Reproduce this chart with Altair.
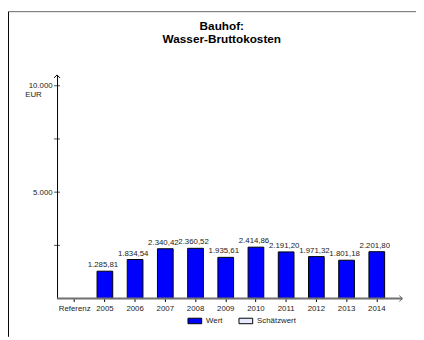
import altair as alt
import pandas as pd

categories = ["Referenz", "2005", "2006", "2007", "2008", "2009", "2010", "2011", "2012", "2013", "2014"]
years = ["2005", "2006", "2007", "2008", "2009", "2010", "2011", "2012", "2013", "2014"]
values = [1285.81, 1834.54, 2340.42, 2360.52, 1935.61, 2414.86, 2191.20, 1971.32, 1801.18, 2201.80]
series = ["Wert", "Schätzwert"]
series_colors = ["#0000ff", "#e6ebff"]
y_ticks = [2500, 5000, 7500, 10000]
y_label_values = [5000, 10000]
unit = ["EUR"]
title_lines = ["Bauhof:", "Wasser-Bruttokosten"]

FONT = "Liberation Sans"


def de(v):
    return f"{v:,.2f}".replace(",", "X").replace(".", ",").replace("X", ".")


bars_df = pd.DataFrame({
    "Jahr": years,
    "Wert": values,
    "Serie": ["Wert"] * len(years),
    "Label": [de(v) for v in values],
})

x_enc = alt.X(
    "Jahr:N",
    scale=alt.Scale(domain=categories, paddingInner=0.48, paddingOuter=0.324),
    axis=alt.Axis(title=None, labelAngle=0, domain=False, ticks=True, tickSize=3,
                  tickColor="black", labelFont=FONT, labelFontSize=8, labelColor="#222222",
                  labelPadding=3, grid=False),
)
y_scale = alt.Scale(domain=[0, 10507], nice=False)
y_axis = alt.Axis(title=None, values=y_label_values, ticks=False, domain=True, domainColor="black",
                  domainWidth=1, labelPadding=5, grid=False, labelFont=FONT, labelFontSize=8,
                  labelColor="#222222",
                  labelExpr="replace(format(datum.value, ',.0f'), ',', '.')")


def y_enc():
    return alt.Y("Wert:Q", scale=y_scale, axis=y_axis)


bars = alt.Chart(bars_df).mark_bar(stroke="black", strokeWidth=1).encode(
    x=x_enc,
    y=y_enc(),
    fill=alt.Fill("Serie:N", scale=alt.Scale(domain=series, range=series_colors),
                  legend=alt.Legend(title=None, orient="none", legendX=133, legendY=243,
                                    direction="horizontal", symbolType="M-1,-0.4H1V0.4H-1Z",
                                    symbolSize=196, symbolStrokeColor="black", symbolStrokeWidth=1,
                                    labelFont=FONT, labelFontSize=8, labelColor="#222222",
                                    labelOffset=4, columnPadding=14)),
)

labels = alt.Chart(bars_df).mark_text(baseline="bottom", dy=-2, dx=-2, fontSize=8, font=FONT,
                                      color="#222222").encode(
    x=x_enc, y=y_enc(), text="Label:N")

ticks = alt.Chart(pd.DataFrame({"Wert": y_ticks})).mark_tick(
    orient="horizontal", size=6, thickness=1, color="black").encode(
    y=y_enc(), x=alt.value(0))

eur = alt.Chart(pd.DataFrame({"Wert": [10000], "t": unit})).mark_text(
    align="center", baseline="top", dy=5, fontSize=8, font=FONT, color="#222222").encode(
    y=y_enc(), x=alt.value(-24), text="t:N")

one = pd.DataFrame({"a": [0]})
x_line = alt.Chart(one).mark_rule(color="#707070", strokeWidth=2).encode(
    x=alt.value(0), x2=alt.value(352), y=alt.value(228))
x_arrow = alt.Chart(one).mark_point(shape="M-1,-1L0,0L-1,1", size=36, filled=False,
                                    color="#555555", strokeWidth=1, opacity=1).encode(
    x=alt.value(352), y=alt.value(228))
y_arrow = alt.Chart(one).mark_point(shape="M-1,1L0,0L1,1", size=36, filled=False,
                                    color="black", strokeWidth=1, opacity=1).encode(
    x=alt.value(0), y=alt.value(0))
frame_top = alt.Chart(one).mark_rule(color="#666666", strokeWidth=1).encode(
    x=alt.value(-49.5), x2=alt.value(366), y=alt.value(-64.5))
frame_left = alt.Chart(one).mark_rule(color="black", strokeWidth=1).encode(
    x=alt.value(-49.5), y=alt.value(-64.5), y2=alt.value(267))

chart = alt.layer(frame_top, frame_left, bars, labels, ticks, eur, x_line, x_arrow, y_arrow).properties(
    width=344,
    height=228,
    padding={"left": 50, "top": 65, "right": 22, "bottom": 39},
    autosize="none",
    title=alt.Title(title_lines, fontSize=12, fontWeight="bold", font=FONT, anchor="middle",
                    dx=-4, offset=-35, lineHeight=13, color="black"),
).configure_view(stroke=None)

chart.save("out.html", embed_options={"renderer": "svg", "actions": False})
